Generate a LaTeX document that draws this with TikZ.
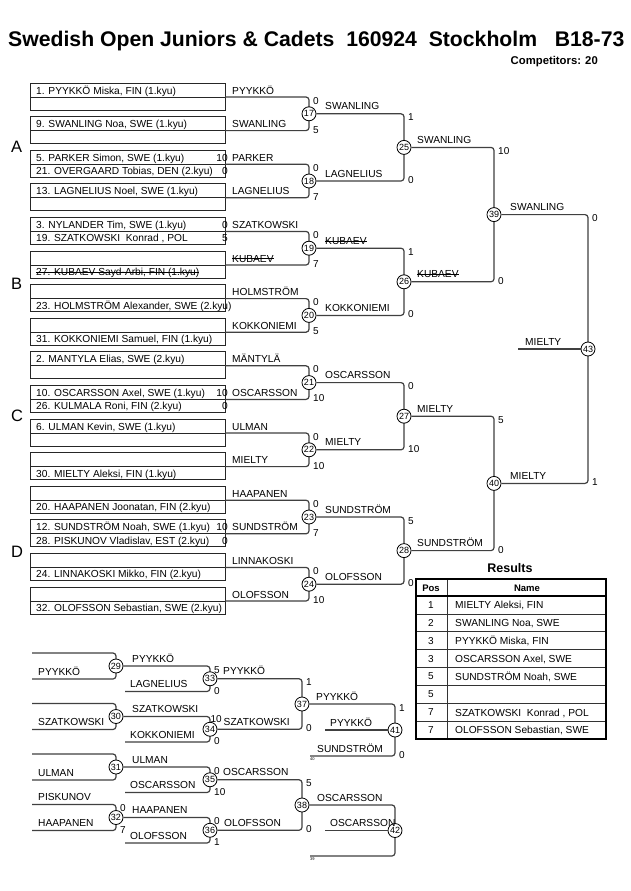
\documentclass[tikz,border=0pt]{standalone}
\usepackage{fontspec}
\setmainfont{Liberation Sans}
\newlength\strklen
\newcommand\strk[1]{\settowidth\strklen{#1}\rlap{#1}\rule[0.3em]{\strklen}{0.6pt}}
\tikzset{
  boxln/.style={draw=black!85, line width=0.9pt},
  brk/.style={draw=black!75, line width=1.2pt, rounded corners=3pt},
  txt/.style={inner sep=0pt, anchor=base west, font=\fontsize{10.2}{12}\selectfont},
  sc/.style={inner sep=0pt, anchor=base west, font=\fontsize{10}{12}\selectfont},
  circ/.style={circle, draw=black, line width=0.8pt, fill=white, minimum size=14pt, inner sep=0pt, font=\fontsize{9}{9}\selectfont},
  tinytxt/.style={inner sep=0pt, anchor=base west, font=\fontsize{4}{4}\selectfont},
  hd/.style={inner sep=0pt, font=\bfseries\fontsize{9.5}{11}\selectfont},
  tc/.style={inner sep=0pt, font=\fontsize{10}{12}\selectfont},
  tblin/.style={draw=black!80, line width=0.8pt},
  grp/.style={inner sep=0pt, anchor=base west, font=\fontsize{16.5}{16.5}\selectfont},
}
% slot: #1 index, #2 row1, #3 row2, #4 label, #5 score1, #6 score2
\newcommand\slotrow[6]{%
  \pgfmathsetmacro\qT{83+33.6*#1}%
  \pgfmathsetmacro\qM{\qT+14}%
  \pgfmathsetmacro\qB{\qT+27}%
  \draw[boxln] (30,\qT) rectangle (225,\qB);
  \draw[boxln] (30,\qM) -- (225,\qM);
  \node[txt] (ra#1) at (36,\qT+11) {#2};
  \node[txt] (rb#1) at (36,\qT+24.5) {#3};
  \node[txt] (lab#1) at (232,\qT+11) {#4};
  \node[txt,anchor=base east] (sa#1) at (228,\qT+11) {#5};
  \node[txt,anchor=base east] (sb#1) at (228,\qT+24.5) {#6};
  \coordinate (p#1) at (225,\qM);
}
% join: #1 number, #2 top point, #3 bottom point, #4 vline x, #5 ytop, #6 ybot, #7 top score, #8 bottom score
\newcommand\joinM[8]{%
  \draw[brk] (#2) -- (#4,#5) -- (#4,#6) -- (#3);
  \pgfmathsetmacro\qY{(#5+#6)/2}%
  \node[circ] (m#1) at (#4,\qY) {#1};
  \node[sc] (st#1) at (#4+4,#5+7) {#7};
  \node[sc] (sb#1) at (#4+4,#6+2.5) {#8};
}
\begin{document}
\begin{tikzpicture}[x=1pt,y=-1pt]
\useasboundingbox[fill=white] (0,0) rectangle (630,891);

% header
\node[anchor=base west, inner sep=0pt, font=\bfseries\fontsize{21.2}{21}\selectfont] (title) at (8,47)
  {Swedish Open Juniors \& Cadets\ \ 160924\ \ Stockholm\ \ \ B18-73};
\node[anchor=base east, inner sep=0pt, font=\bfseries\fontsize{11.3}{12}\selectfont] (comp) at (598,64) {Competitors: 20};

% group letters
\node[grp] (gA) at (11,152.5) {A};
\node[grp] (gB) at (11,289) {B};
\node[grp] (gC) at (11,421) {C};
\node[grp] (gD) at (11,557) {D};

% slots
\slotrow{0}{1. PYYKKÖ Miska, FIN (1.kyu)}{}{PYYKKÖ}{}{}
\slotrow{1}{9. SWANLING Noa, SWE (1.kyu)}{}{SWANLING}{}{}
\slotrow{2}{5. PARKER Simon, SWE (1.kyu)}{21. OVERGAARD Tobias, DEN (2.kyu)}{PARKER}{10}{0}
\slotrow{3}{13. LAGNELIUS Noel, SWE (1.kyu)}{}{LAGNELIUS}{}{}
\slotrow{4}{3. NYLANDER Tim, SWE (1.kyu)}{19. SZATKOWSKI\ \ Konrad , POL}{SZATKOWSKI}{0}{5}
\slotrow{5}{}{\strk{27. KUBAEV Sayd-Arbi, FIN (1.kyu)}}{\strk{KUBAEV}}{}{}
\slotrow{6}{}{23. HOLMSTRÖM Alexander, SWE (2.kyu)}{HOLMSTRÖM}{}{}
\slotrow{7}{}{31. KOKKONIEMI Samuel, FIN (1.kyu)}{KOKKONIEMI}{}{}
\slotrow{8}{2. MANTYLA Elias, SWE (2.kyu)}{}{MÄNTYLÄ}{}{}
\slotrow{9}{10. OSCARSSON Axel, SWE (1.kyu)}{26. KULMALA Roni, FIN (2.kyu)}{OSCARSSON}{10}{0}
\slotrow{10}{6. ULMAN Kevin, SWE (1.kyu)}{}{ULMAN}{}{}
\slotrow{11}{}{30. MIELTY Aleksi, FIN (1.kyu)}{MIELTY}{}{}
\slotrow{12}{}{20. HAAPANEN Joonatan, FIN (2.kyu)}{HAAPANEN}{}{}
\slotrow{13}{12. SUNDSTRÖM Noah, SWE (1.kyu)}{28. PISKUNOV Vladislav, EST (2.kyu)}{SUNDSTRÖM}{10}{0}
\slotrow{14}{}{24. LINNAKOSKI Mikko, FIN (2.kyu)}{LINNAKOSKI}{}{}
\slotrow{15}{}{32. OLOFSSON Sebastian, SWE (2.kyu)}{OLOFSSON}{}{}

% round 1
\joinM{17}{p0}{p1}{309}{97}{130.6}{0}{5}
\joinM{18}{p2}{p3}{309}{164.2}{197.8}{0}{7}
\joinM{19}{p4}{p5}{309}{231.4}{265}{0}{7}
\joinM{20}{p6}{p7}{309}{298.6}{332.2}{0}{5}
\joinM{21}{p8}{p9}{309}{365.8}{399.4}{0}{10}
\joinM{22}{p10}{p11}{309}{433}{466.6}{0}{10}
\joinM{23}{p12}{p13}{309}{500.2}{533.8}{0}{7}
\joinM{24}{p14}{p15}{309}{567.4}{601}{0}{10}
\node[txt] (w17) at (325,109.8) {SWANLING};
\node[txt] (w18) at (325,177) {LAGNELIUS};
\node[txt] (w19) at (325,244.2) {\strk{KUBAEV}};
\node[txt] (w20) at (325,311.4) {KOKKONIEMI};
\node[txt] (w21) at (325,378.6) {OSCARSSON};
\node[txt] (w22) at (325,445.8) {MIELTY};
\node[txt] (w23) at (325,513) {SUNDSTRÖM};
\node[txt] (w24) at (325,580.2) {OLOFSSON};

% round 2
\joinM{25}{m17.east}{m18.east}{404}{113.8}{181}{1}{0}
\joinM{26}{m19.east}{m20.east}{404}{248.2}{315.4}{1}{0}
\joinM{27}{m21.east}{m22.east}{404}{382.6}{449.8}{0}{10}
\joinM{28}{m23.east}{m24.east}{404}{517}{584.2}{5}{0}
\node[txt] (w25) at (417,143.4) {SWANLING};
\node[txt] (w26) at (417,277.8) {\strk{KUBAEV}};
\node[txt] (w27) at (417,412.2) {MIELTY};
\node[txt] (w28) at (417,546.6) {SUNDSTRÖM};

% round 3
\joinM{39}{m25.east}{m26.east}{494}{147.4}{281.8}{10}{0}
\joinM{40}{m27.east}{m28.east}{494}{416.2}{550.6}{5}{0}
\node[txt] (w39) at (510,210.6) {SWANLING};
\node[txt] (w40) at (510,479.4) {MIELTY};

% final
\joinM{43}{m39.east}{m40.east}{588}{214.6}{483.4}{0}{1}
\coordinate (f43) at (518,349);
\draw[brk] (f43) -- (m43.west);
\node[txt] (w43) at (525,345) {MIELTY};

% results table
\node[inner sep=0pt, font=\bfseries\fontsize{12.5}{14}\selectfont] (restitle) at (510,568) {Results};
\foreach \k in {1,...,7} \draw[tblin] (416,{596+17.9*\k}) -- (606,{596+17.9*\k});
\draw[tblin] (447,579) -- (447,739.2);
\draw[black, line width=1.2pt] (416,596) -- (606,596);
\draw[black, line width=1.6pt] (416,579) rectangle (606,739.2);
\node[hd] (hpos) at (431,588) {Pos};
\node[hd] (hname) at (527,588) {Name};
\node[tc] (rp1) at (431,605) {1};
\node[tc] (rp2) at (431,622.9) {2};
\node[tc] (rp3) at (431,640.8) {3};
\node[tc] (rp4) at (431,658.7) {3};
\node[tc] (rp5) at (431,676.6) {5};
\node[tc] (rp6) at (431,694.5) {5};
\node[tc] (rp7) at (431,712.4) {7};
\node[tc] (rp8) at (431,730.3) {7};
\node[txt] (rn1) at (455,608.6) {MIELTY Aleksi, FIN};
\node[txt] (rn2) at (455,626.5) {SWANLING Noa, SWE};
\node[txt] (rn3) at (455,644.4) {PYYKKÖ Miska, FIN};
\node[txt] (rn4) at (455,662.3) {OSCARSSON Axel, SWE};
\node[txt] (rn5) at (455,680.2) {SUNDSTRÖM Noah, SWE};
\node[txt] (rn7) at (455,716) {SZATKOWSKI\ \ Konrad , POL};
\node[txt] (rn8) at (455,733.9) {OLOFSSON Sebastian, SWE};

% repechage
\coordinate (a29) at (32,653);   \coordinate (b29) at (32,679);
\coordinate (a30) at (32,703.5); \coordinate (b30) at (32,729.5);
\coordinate (a31) at (32,754);   \coordinate (b31) at (32,780);
\coordinate (a32) at (32,804.5); \coordinate (b32) at (32,830.5);
\joinM{29}{a29}{b29}{116}{653}{679}{}{}
\joinM{30}{a30}{b30}{116}{703.5}{729.5}{}{}
\joinM{31}{a31}{b31}{116}{754}{780}{}{}
\joinM{32}{a32}{b32}{116}{804.5}{830.5}{0}{7}
\node[txt] (x29) at (38,675) {PYYKKÖ};
\node[txt] (x30) at (38,725.5) {SZATKOWSKI};
\node[txt] (x31) at (38,776) {ULMAN};
\node[txt] (y32) at (38,800.5) {PISKUNOV};
\node[txt] (x32) at (38,826.5) {HAAPANEN};

\coordinate (b33) at (125,691.5);
\coordinate (b34) at (125,742);
\coordinate (b35) at (125,792.5);
\coordinate (b36) at (125,843);
\joinM{33}{m29.east}{b33}{210}{666}{691.5}{5}{0}
\joinM{34}{m30.east}{b34}{210}{716.5}{742}{}{0}
\node[sc,anchor=base east] (st34) at (222,722.5) {10};
\joinM{35}{m31.east}{b35}{210}{767}{792.5}{0}{10}
\joinM{36}{m32.east}{b36}{210}{817.5}{843}{0}{1}
\node[txt] (w29) at (132,662) {PYYKKÖ};
\node[txt] (w30) at (132,712.5) {SZATKOWSKI};
\node[txt] (w31) at (132,763) {ULMAN};
\node[txt] (w32) at (132,813.5) {HAAPANEN};
\node[txt] (x33) at (130,687.5) {LAGNELIUS};
\node[txt] (x34) at (130,738) {KOKKONIEMI};
\node[txt] (x35) at (130,788.5) {OSCARSSON};
\node[txt] (x36) at (130,839) {OLOFSSON};

\joinM{37}{m33.east}{m34.east}{302}{678.75}{729.25}{1}{0}
\joinM{38}{m35.east}{m36.east}{302}{779.75}{830.25}{5}{0}
\node[txt] (w33) at (223,674.75) {PYYKKÖ};
\node[txt] (w34) at (223.5,725.25) {SZATKOWSKI};
\node[txt] (w35) at (223,775.75) {OSCARSSON};
\node[txt] (w36) at (224,826.25) {OLOFSSON};

\coordinate (b41) at (310,756);
\coordinate (b42) at (310,856);
\joinM{41}{m37.east}{b41}{395}{704}{756}{1}{0}
\joinM{42}{m38.east}{b42}{395}{805}{856}{}{}
\node[txt] (w37) at (316,700) {PYYKKÖ};
\node[txt] (w38) at (317,801) {OSCARSSON};
\node[txt] (x41) at (317,752) {SUNDSTRÖM};
\node[tinytxt] (t41) at (310,760.5) {40};
\node[tinytxt] (t42) at (310,860.5) {39};
\coordinate (f41) at (325,730);
\coordinate (f42) at (325,830.5);
\draw[brk] (f41) -- (m41.west);
\draw[brk] (f42) -- (m42.west);
\node[txt] (w41) at (330,726) {PYYKKÖ};
\node[txt] (w42) at (330,826.5) {OSCARSSON};
\end{tikzpicture}
\end{document}
